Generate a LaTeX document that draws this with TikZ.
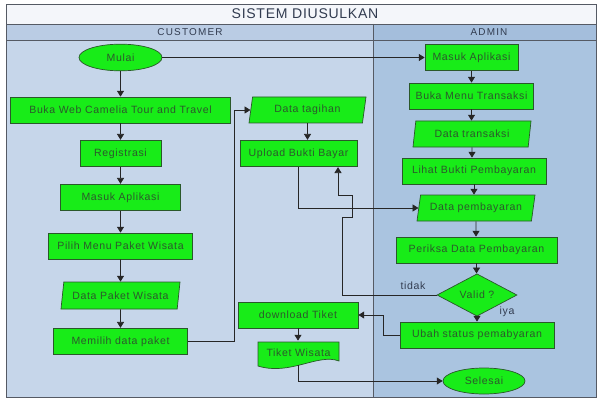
\documentclass[tikz,border=0pt]{standalone}
\usepackage{fontspec}
\setmainfont{Liberation Sans}
\newfontfamily\boxfont[LetterSpace=6]{Liberation Sans}
\newfontfamily\headfont[LetterSpace=12]{Liberation Sans}
\newfontfamily\titlefont[LetterSpace=5]{Liberation Sans}
\usepackage{tikz}
\usetikzlibrary{shapes.geometric}
\usetikzlibrary{arrows.meta}
\definecolor{boxgreen}{RGB}{24,236,24}
\definecolor{boxline}{RGB}{42,88,42}
\definecolor{boxtext}{RGB}{44,88,44}
\definecolor{laneleft}{RGB}{198,214,234}
\definecolor{laneright}{RGB}{170,196,224}
\definecolor{headleft}{RGB}{186,204,228}
\definecolor{headright}{RGB}{164,190,220}
\definecolor{titlebg}{RGB}{244,246,250}
\definecolor{frameline}{RGB}{85,90,100}
\definecolor{labeltext}{RGB}{50,60,80}
\tikzstyle{process}=[rectangle,draw=boxline,fill=boxgreen,text=boxtext,inner sep=0mm,minimum height=0.8cm,font=\boxfont\fontsize{9}{10}\selectfont]
\tikzstyle{io}=[trapezium,trapezium left angle=70,trapezium right angle=110,trapezium stretches body=true,draw=boxline,fill=boxgreen,text=boxtext,inner sep=0mm,minimum height=0.78cm,font=\boxfont\fontsize{9}{10}\selectfont]
\tikzstyle{terminal}=[ellipse,draw=boxline,fill=boxgreen,text=boxtext,inner sep=0mm,minimum height=0.8cm,font=\boxfont\fontsize{9}{10}\selectfont]
\tikzstyle{decision}=[diamond,draw=boxline,fill=boxgreen,text=boxtext,inner sep=0mm,font=\boxfont\fontsize{9}{10}\selectfont]
\tikzstyle{lanehead}=[text=labeltext,font=\headfont\fontsize{8.5}{10}\selectfont]
\tikzstyle{note}=[text=labeltext,font=\boxfont\fontsize{9}{10}\selectfont]
\tikzstyle{link}=[-{Triangle[length=5pt,width=6pt]},draw=black!85]
\tikzset{every picture/.style={
    line width=0.6pt
  }
}
\begin{document}
\begin{tikzpicture}[x=0.03cm,y=-0.03cm]
    \useasboundingbox (0,0) rectangle (600,399);
    % swimlanes
    \fill[titlebg] (6,4) rectangle (596,24);
    \fill[headleft] (6,24) rectangle (373,40);
    \fill[headright] (373,24) rectangle (596,40);
    \fill[laneleft] (6,40) rectangle (373,397);
    \fill[laneright] (373,40) rectangle (596,397);
    \draw[frameline] (6,4) rectangle (596,397);
    \draw[frameline] (6,24) -- (596,24);
    \draw[frameline] (6,40) -- (596,40);
    \draw[frameline] (373,24) -- (373,397);
    \node[text=labeltext,font=\titlefont\fontsize{12}{14}\selectfont] at (305,14) (title) {SISTEM DIUSULKAN};
    \node[lanehead] at (190,32) (customer) {CUSTOMER};
    \node[lanehead] at (489,32) (admin) {ADMIN};

    % customer
    \node[terminal,minimum width=2.49cm] at (120.5,57.5) (mulai) {Mulai};
    \node[process,minimum width=6.6cm,minimum height=0.78cm] at (120.5,110) (bukaWeb) {Buka Web Camelia Tour and Travel};
    \node[process,minimum width=2.43cm] at (120.5,153.5) (registrasi) {Registrasi};
    \node[process,minimum width=3.6cm] at (120.5,197.5) (masukCust) {Masuk Aplikasi};
    \node[process,minimum width=4.32cm,minimum height=0.78cm] at (120.5,246) (pilihMenu) {Pilih Menu Paket Wisata};
    \node[io,minimum width=3.57cm,minimum height=0.81cm] at (120.5,295.5) (dataPaket) {Data Paket Wisata};
    \node[process,minimum width=4.02cm] at (120.5,341.5) (memilih) {Memilih data paket};
    \node[io,minimum width=3.51cm] at (307.5,110) (dataTagihan) {Data tagihan};
    \node[process,minimum width=3.51cm] at (298.5,153.5) (upload) {Upload Bukti Bayar};
    \node[process,minimum width=3.6cm,minimum height=0.78cm] at (298,315) (download) {download Tiket};
    \filldraw[draw=boxline,fill=boxgreen] (258,342) -- (339,342) -- (339,361)
        .. controls (318,353) and (290,376) .. (258,366) -- cycle;
    \node[text=boxtext,font=\boxfont\fontsize{9}{10}\selectfont,minimum width=2.43cm,minimum height=0.72cm,inner sep=0mm] at (298.5,353) (tiket) {Tiket Wisata};

    % admin
    \node[process,minimum width=2.79cm] at (471.5,57.5) (adMasuk) {Masuk Aplikasi};
    \node[process,minimum width=3.72cm,minimum height=0.78cm] at (471.5,96) (bukaMenu) {Buka Menu Transaksi};
    \node[io,minimum width=3.54cm] at (472,134) (dataTrans) {Data transaksi};
    \node[process,minimum width=4.32cm,minimum height=0.78cm] at (474,171) (lihat) {Lihat Bukti Pembayaran};
    \node[io,minimum width=3.54cm] at (476,208) (dataBayar) {Data pembayaran};
    \node[process,minimum width=4.83cm,minimum height=0.78cm] at (476.5,250) (periksa) {Periksa Data Pembayaran};
    \node[decision,minimum width=2.4cm,minimum height=0.78cm] at (477,295) (valid) {Valid ?};
    \node[process,minimum width=4.62cm,minimum height=0.78cm] at (477,335) (ubah) {Ubah status pemabyaran};
    \node[terminal,minimum width=2.46cm,minimum height=0.78cm] at (484,381) (selesai) {Selesai};
    \node[note] at (413,286) (tidak) {tidak};
    \node[note] at (507,312) (iya) {iya};

    % bends
    \coordinate (b1) at (234,341.5);
    \coordinate (b2) at (342,295);
    \coordinate (b3) at (342,217);
    \coordinate (b4) at (352,217);
    \coordinate (b5) at (352,195);
    \coordinate (b6) at (338,195);
    \coordinate (b7) at (383,335);

    % flow customer
    \draw[link] (mulai) -- (bukaWeb);
    \draw[link] (mulai) -- (adMasuk);
    \draw[link] (bukaWeb) -- (registrasi);
    \draw[link] (registrasi) -- (masukCust);
    \draw[link] (masukCust) -- (pilihMenu);
    \draw[link] (pilihMenu) -- (dataPaket);
    \draw[link] (dataPaket) -- (memilih);
    \draw[link] (memilih.east) -- (b1) |- (dataTagihan.west);
    \draw[link] (dataTagihan.south) -- (dataTagihan.south |- upload.north);
    \draw[link] (upload.south) |- (dataBayar.west);
    \draw[link] (download) -- (download |- tiket.north);
    \draw[link] (tiket.south) |- (selesai.west);

    % flow admin
    \draw[link] (adMasuk) -- (bukaMenu);
    \draw[link] (bukaMenu) -- (bukaMenu |- dataTrans.north);
    \draw[link] (dataTrans) -- (dataTrans |- lihat.north);
    \draw[link] (lihat) -- (lihat |- dataBayar.north);
    \draw[link] (dataBayar) -- (dataBayar |- periksa.north);
    \draw[link] (periksa) -- (periksa |- valid.north);
    \draw[link] (valid) -- (ubah);
    \draw[link] (valid.west) -- (b2) -- (b3) -- (b4) -- (b5) -- (b6) -- (b6 |- upload.south);
    \draw[link] (ubah.west) -- (b7) |- (download.east);
\end{tikzpicture}
\end{document}
